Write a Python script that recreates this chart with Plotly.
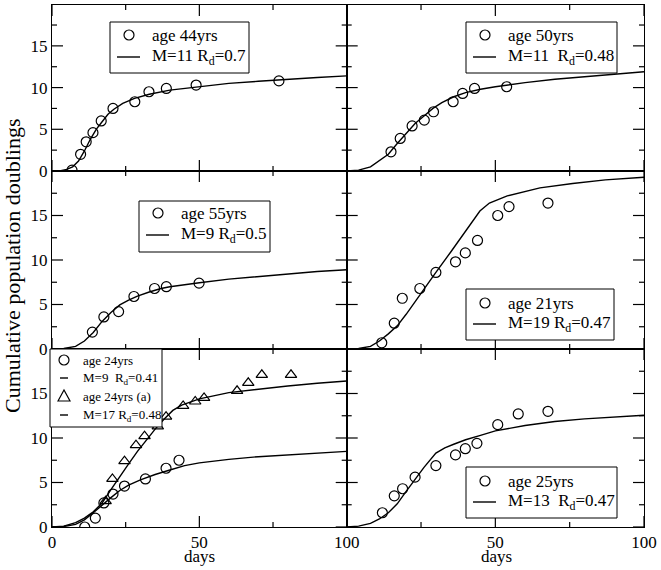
import plotly.graph_objects as go
from plotly.subplots import make_subplots

# ! data (days, cumulative population doublings)
# age 44yrs
days_44 = [6.8, 9.7, 11.6, 13.9, 16.7, 20.7, 28.1, 32.9, 38.8, 48.9, 77.0]
pd_44 = [0.1, 2.0, 3.5, 4.6, 6.0, 7.5, 8.3, 9.5, 9.9, 10.3, 10.8]
fit_x_44 = [0, 3, 5, 7, 9, 11, 13, 15, 17, 19, 21, 24, 28, 33, 40, 50, 60, 70, 80, 90, 100]
fit_y_44 = [0, 0.05, 0.2, 0.5, 1.2, 2.4, 3.8, 5.0, 5.9, 6.8, 7.4, 8.1, 8.7, 9.2, 9.7, 10.1, 10.5, 10.75, 11.0, 11.2, 11.4]

# age 50yrs
days_50 = [14.9, 18.0, 22.0, 26.1, 29.2, 35.8, 39.0, 43.0, 53.8]
pd_50 = [2.3, 3.9, 5.4, 6.1, 7.1, 8.3, 9.3, 9.9, 10.1]
fit_x_50 = [0, 4, 8, 11, 14, 17, 20, 23, 26, 29, 32, 36, 40, 45, 50, 60, 70, 80, 90, 100]
fit_y_50 = [0, 0.1, 0.5, 1.2, 2.0, 3.3, 4.5, 5.7, 6.6, 7.5, 8.2, 8.9, 9.4, 9.8, 10.1, 10.6, 11.0, 11.3, 11.6, 11.9]

# age 55yrs
days_55 = [13.7, 17.6, 22.6, 27.8, 34.8, 38.8, 49.9]
pd_55 = [1.9, 3.6, 4.2, 5.9, 6.8, 7.0, 7.4]
fit_x_55 = [0, 4, 8, 11, 14, 17, 20, 23, 26, 29, 33, 37, 40, 45, 50, 60, 70, 80, 90, 100]
fit_y_55 = [0, 0.05, 0.3, 0.9, 1.85, 3.1, 4.1, 4.95, 5.5, 5.95, 6.4, 6.8, 7.0, 7.25, 7.45, 7.85, 8.15, 8.45, 8.7, 8.9]

# age 21yrs
days_21 = [11.8, 16.0, 18.7, 24.6, 30.0, 36.6, 39.9, 44.0, 50.8, 54.6, 67.7]
pd_21 = [0.7, 2.9, 5.7, 6.8, 8.6, 9.8, 10.8, 12.2, 15.0, 16.0, 16.4]
fit_x_21 = [0, 4, 8, 11, 14, 17, 20, 25, 30, 35, 40, 44.8, 48, 54, 65, 76, 87, 100]
fit_y_21 = [0, 0.05, 0.3, 0.9, 1.7, 2.6, 3.9, 6.3, 8.6, 10.9, 13.2, 15.5, 16.4, 17.2, 18.1, 18.6, 19.0, 19.3]

# age 24yrs and age 24yrs (a)
days_24 = [11.1, 14.7, 17.6, 20.7, 24.6, 31.7, 38.7, 43.1]
pd_24 = [0.0, 1.0, 2.7, 3.7, 4.6, 5.4, 6.6, 7.5]
fit_x_24 = [0, 4, 8, 11, 14, 17, 20, 23, 26, 30, 35, 40, 45, 50, 60, 70, 80, 90, 100]
fit_y_24 = [0, 0.05, 0.3, 0.8, 1.6, 2.5, 3.3, 4.1, 4.7, 5.3, 5.9, 6.4, 6.9, 7.2, 7.6, 7.9, 8.1, 8.3, 8.5]
days_24a = [18.2, 20.5, 24.6, 28.5, 31.4, 35.9, 38.7, 44.5, 48.6, 51.6, 62.8, 66.6, 71.2, 81.1]
pd_24a = [2.9, 5.4, 7.4, 9.2, 10.2, 11.3, 12.4, 13.6, 14.1, 14.5, 15.3, 16.2, 17.1, 17.1]
fit_x_24a = [0, 4, 8, 11, 14, 17, 20, 23, 26, 29, 32, 35, 38, 41, 44, 50, 60, 70, 80, 90, 100]
fit_y_24a = [0, 0.1, 0.5, 1.0, 1.7, 2.7, 4.2, 5.7, 7.1, 8.5, 9.8, 11.0, 12.1, 13.1, 13.7, 14.4, 15.1, 15.5, 15.85, 16.15, 16.4]

# age 25yrs
days_25 = [12.0, 16.0, 18.8, 23.0, 30.0, 36.6, 39.9, 43.8, 50.8, 57.7, 67.7]
pd_25 = [1.6, 3.5, 4.3, 5.6, 6.9, 8.1, 8.8, 9.4, 11.5, 12.7, 13.0]
fit_x_25 = [0, 4, 8, 11, 14, 17, 20, 23, 26, 30, 33, 36, 40, 45, 50, 60, 70, 80, 90, 100]
fit_y_25 = [0, 0.1, 0.4, 0.9, 1.6, 2.6, 4.0, 5.4, 6.7, 8.3, 8.9, 9.3, 9.8, 10.3, 10.8, 11.4, 11.85, 12.15, 12.35, 12.55]

# tick positions
x_major = [0, 50, 100]
x_minor = [25, 75]
y_major = [0, 5, 10, 15, 20]
y_minor = [2.5, 7.5, 12.5, 17.5]

FONT = "Liberation Serif"
NB = "\u00a0"
W, H = 661, 570
ML, MR, MT, MB = 52, 17, 5, 43
PW, PH = W - ML - MR, H - MT - MB

fig = make_subplots(rows=3, cols=2, horizontal_spacing=0, vertical_spacing=0)


def add_pts(row, col, x, y, name, symbol="circle-open"):
    fig.add_trace(go.Scatter(
        x=x, y=y, mode="markers", name=name, showlegend=False,
        marker=dict(symbol=symbol, size=10, color="black", line=dict(width=1.2, color="black"))),
        row=row, col=col)


def add_fit(row, col, x, y, name):
    fig.add_trace(go.Scatter(
        x=x, y=y, mode="lines", name=name, showlegend=False,
        line=dict(color="black", width=1.4)),
        row=row, col=col)


add_pts(1, 1, days_44, pd_44, "age 44yrs")
add_fit(1, 1, fit_x_44, fit_y_44, "M=11 R_d=0.7")
add_pts(1, 2, days_50, pd_50, "age 50yrs")
add_fit(1, 2, fit_x_50, fit_y_50, "M=11 R_d=0.48")
add_pts(2, 1, days_55, pd_55, "age 55yrs")
add_fit(2, 1, fit_x_55, fit_y_55, "M=9 R_d=0.5")
add_pts(2, 2, days_21, pd_21, "age 21yrs")
add_fit(2, 2, fit_x_21, fit_y_21, "M=19 R_d=0.47")
add_pts(3, 1, days_24, pd_24, "age 24yrs")
add_fit(3, 1, fit_x_24, fit_y_24, "M=9 R_d=0.41")
add_pts(3, 1, days_24a, pd_24a, "age 24yrs (a)", symbol="triangle-up-open")
add_fit(3, 1, fit_x_24a, fit_y_24a, "M=17 R_d=0.48")
add_pts(3, 2, days_25, pd_25, "age 25yrs")
add_fit(3, 2, fit_x_25, fit_y_25, "M=13 R_d=0.47")

# ! axes: boxed frame
fig.update_xaxes(
    showline=True, linecolor="black", linewidth=1, mirror=True,
    ticks="", showgrid=False, zeroline=False, range=[0, 100],
    tickfont=dict(family=FONT, size=17, color="black"),
)
fig.update_yaxes(
    showline=True, linecolor="black", linewidth=1, mirror=True,
    ticks="", showgrid=False, zeroline=False, range=[0, 20],
    tickvals=[0, 5, 10, 15],
    tickfont=dict(family=FONT, size=17, color="black"),
)
xdom = [[0, 0.4978], [0.4978, 1]]
ydom = [[0.682, 1.0], [0.341, 0.682], [0, 0.341]]
for r in range(3):
    for c in range(2):
        fig.update_xaxes(domain=xdom[c], row=r + 1, col=c + 1,
                         tickvals=[0, 50, 100] if c == 0 else [50, 100],
                         showticklabels=(r == 2))
        fig.update_yaxes(domain=ydom[r], row=r + 1, col=c + 1,
                         showticklabels=(c == 0))
fig.update_yaxes(range=[0, 19.9], row=1)

# ! inside ticks on all four sides of every panel (drawn as short segments)
TICK = dict(color="black", width=1.2)
for r in range(3):
    for c in range(2):
        n = r * 2 + c + 1
        xr = "x" if n == 1 else "x%d" % n
        yr = "y" if n == 1 else "y%d" % n
        ph = (ydom[r][1] - ydom[r][0]) * PH
        pw = (xdom[c][1] - xdom[c][0]) * PW
        for vals, ln in [(x_major, 11), (x_minor, 5)]:
            for v in vals:
                for y0, y1 in [(0, ln / ph), (1, 1 - ln / ph)]:
                    fig.add_shape(type="line", xref=xr, yref=yr + " domain",
                                  x0=v, x1=v, y0=y0, y1=y1, line=TICK, layer="above")
        for vals, ln in [(y_major, 11), (y_minor, 5)]:
            for v in vals:
                if r == 0 and v > 19.9:
                    continue
                for x0, x1 in [(0, ln / pw), (1, 1 - ln / pw)]:
                    fig.add_shape(type="line", xref=xr + " domain", yref=yr,
                                  x0=x0, x1=x1, y0=v, y1=v, line=TICK, layer="above")


# ! legend boxes drawn by hand, positions in page pixels
def px(x):
    return (x - ML) / PW


def py(y):
    return 1 - (y - MT) / PH


def legend_box(left, top, right, bottom, rows, size=17, glyph=(19, 7, 30, 40)):
    mx, l0, l1, tx = glyph
    fig.add_shape(type="rect", xref="paper", yref="paper",
                  x0=px(left), x1=px(right), y0=py(bottom), y1=py(top),
                  line=dict(color="black", width=1), fillcolor="white", layer="above")
    for yc, kind, text in rows:
        if kind == "circle":
            fig.add_shape(type="circle", xref="paper", yref="paper",
                          x0=px(left + mx - 5), x1=px(left + mx + 5),
                          y0=py(yc + 5), y1=py(yc - 5),
                          line=dict(color="black", width=1.2))
        elif kind == "triangle":
            a, b, c = px(left + mx - 6), px(left + mx), px(left + mx + 6)
            p, q = py(yc + 5), py(yc - 6)
            fig.add_shape(type="path", xref="paper", yref="paper",
                          path="M %f %f L %f %f L %f %f Z" % (a, p, b, q, c, p),
                          line=dict(color="black", width=1.2))
        else:
            fig.add_shape(type="line", xref="paper", yref="paper",
                          x0=px(left + l0), x1=px(left + l1), y0=py(yc), y1=py(yc),
                          line=dict(color="black", width=1.4))
        fig.add_annotation(text=text, xref="paper", yref="paper",
                           x=px(left + tx), y=py(yc), xanchor="left", yanchor="middle",
                           showarrow=False, font=dict(family=FONT, size=size, color="black"))


legend_box(110, 22, 249, 73, [(35, "circle", "age 44yrs"), (57, "line", "M=11 R<sub>d</sub>=0.7")])
legend_box(466, 22, 617, 73, [(35, "circle", "age 50yrs"), (57, "line", "M=11" + NB + " R<sub>d</sub>=0.48")])
legend_box(139, 201, 270, 252, [(213, "circle", "age 55yrs"), (235, "line", "M=9 R<sub>d</sub>=0.5")])
legend_box(466, 289, 614, 340, [(303, "circle", "age 21yrs"), (324, "line", "M=19 R<sub>d</sub>=0.47")])
legend_box(50, 349, 162, 427,
           [(360, "circle", "age 24yrs"), (378, "line", "M=9" + NB + " R<sub>d</sub>=0.41"),
            (396, "triangle", "age 24yrs (a)"), (415, "line", "M=17 R<sub>d</sub>=0.48")],
           size=13, glyph=(14, 10, 18, 31))
legend_box(466, 467, 617, 518, [(481, "circle", "age 25yrs"), (502, "line", "M=13" + NB + " R<sub>d</sub>=0.47")])

fig.add_annotation(text="Cumulative population doublings", xref="paper", yref="paper",
                   x=px(12), y=0.5, xanchor="center", yanchor="middle", textangle=-90,
                   showarrow=False, font=dict(family=FONT, size=22, color="black"))
for xc in [199, 496]:
    fig.add_annotation(text="days", xref="paper", yref="paper", x=px(xc), y=py(556),
                       xanchor="center", yanchor="middle", showarrow=False,
                       font=dict(family=FONT, size=17, color="black"))

fig.update_layout(
    width=W, height=H,
    margin=dict(l=ML, r=MR, t=MT, b=MB),
    plot_bgcolor="white", paper_bgcolor="white",
    font=dict(family=FONT, color="black"),
    showlegend=False,
)

# page body has a default 8px margin, drop it so the figure sits at 0,0
fig.write_html("out.html", config={"displayModeBar": False},
               post_script="document.body.style.margin='0';")
